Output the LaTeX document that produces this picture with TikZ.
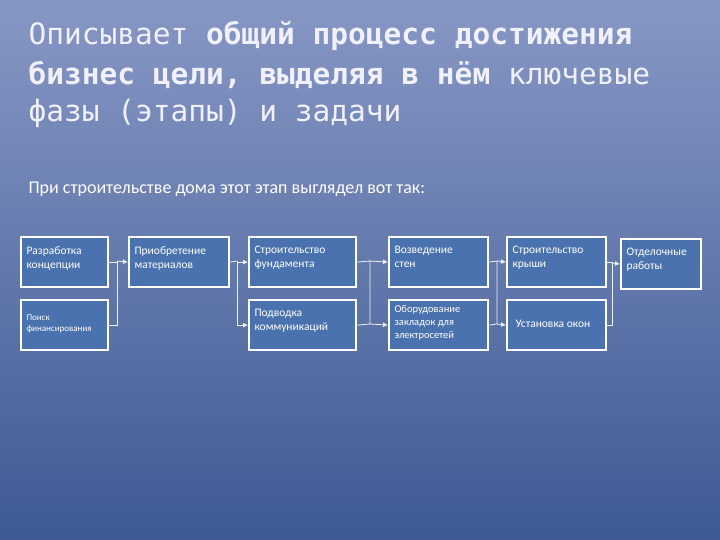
\documentclass[tikz,border=0pt]{standalone}
\usepackage{fontspec}
\setmainfont{Carlito}
\newfontfamily\monof{DejaVu Sans Mono}
\usetikzlibrary{arrows.meta}
\definecolor{boxfill}{HTML}{4A72AE}
\definecolor{bgtop}{HTML}{8797C4}
\definecolor{bgbot}{HTML}{3E5A94}
\begin{document}
\begin{tikzpicture}[x=1pt,y=-1pt,
  bx/.style={draw=white,line width=2.2pt,fill=boxfill,text=white,align=left,anchor=north west,inner sep=0pt},
  ln/.style={draw=white!90!boxfill,line width=0.8pt},
  ar/.style={ln,-{Latex[length=5pt,width=5pt]}},
  tt/.style={anchor=west,text=white!94!blue,font=\monof\fontsize{29.5}{32}\selectfont}]
\fill[top color=bgtop,bottom color=bgbot] (0,0) rectangle (720,540);
\useasboundingbox (0,0) rectangle (720,540);
\node[tt] (t1) at (25,36) {Описывает \textbf{общий процесс достижения}};
\node[tt] (t2) at (25,75) {\textbf{бизнес цели, выделяя в нём} ключевые};
\node[tt] (t3) at (25,113) {фазы (этапы) и задачи};
\node[anchor=west,text=white,font=\fontsize{18}{20}\selectfont] (st) at (25,189) {При строительстве дома этот этап выглядел вот так:};
\newcommand{\bxx}[6]{\node[bx,minimum width=#4pt,minimum height=#5pt] (#1) at (#2,#3) {};
  \node[anchor=north west,text=white,align=left,font=\fontsize{11.5}{14}\selectfont] at (#2+3,#3+7) {#6};}
\bxx{a}{20}{236}{87}{50}{Разработка\\концепции}
\node[bx,minimum width=87pt,minimum height=50pt] (b) at (20,299) {};
\node[anchor=north west,text=white,align=left,font=\fontsize{9}{11}\selectfont] at (23,311) {Поиск\\финансирования};
\bxx{c}{128}{236}{100}{50}{Приобретение\\материалов}
\bxx{d}{248}{236}{107}{50}{Строительство\\фундамента}
\bxx{e}{248}{299}{107}{50}{Подводка\\коммуникаций}
\bxx{f}{388}{236}{99}{50}{Возведение\\стен}
\node[bx,minimum width=99pt,minimum height=50pt] (g) at (388,299) {};
\node[anchor=north west,text=white,align=left,font=\fontsize{10.5}{13}\selectfont] at (391,302) {Оборудование\\закладок для\\электросетей};
\bxx{h}{506}{236}{99}{50}{Строительство\\крыши}
\node[bx,minimum width=99pt,minimum height=50pt] (i) at (506,299) {};
\node[anchor=west,text=white,font=\fontsize{11.5}{14}\selectfont] at (512,324) {Установка окон};
\bxx{j}{620}{238}{80}{50}{Отделочные\\работы}
\coordinate (ja) at (117,261);
\draw[ln] (a.east) -| (ja) (b.east) -| (ja);
\draw[ar] (ja) -- (c.west);
\coordinate (jb) at (237,261);
\draw[ln] (c.east) -- (jb);
\draw[ar] (jb) |- (d.west); \draw[ar] (jb) |- (e.west);
\coordinate (jc) at (370,261); \coordinate (jc2) at (370,324);
\draw[ln] (d.east) -- (jc) (e.east) -- (jc2) (jc) -- (jc2);
\draw[ar] (jc) -- (f.west); \draw[ar] (jc2) -- (g.west);
\coordinate (jd) at (497,261); \coordinate (jd2) at (497,324);
\draw[ln] (f.east) -- (jd) (g.east) -- (jd2) (jd) -- (jd2);
\draw[ar] (jd) -- (h.west); \draw[ar] (jd2) -- (i.west);
\coordinate (je) at (612,263);
\draw[ln] (h.east) -| (je) (i.east) -| (je);
\draw[ar] (je) -- (j.west);
\end{tikzpicture}
\end{document}
